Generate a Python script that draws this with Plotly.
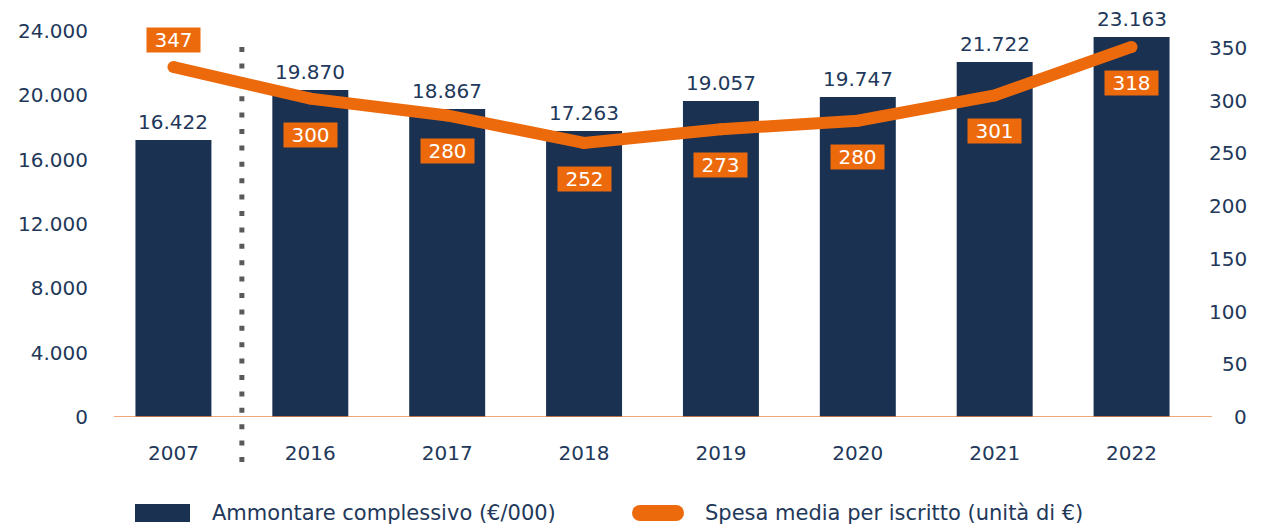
import plotly.graph_objects as go

# ---- data ----
anni = ["2007", "2016", "2017", "2018", "2019", "2020", "2021", "2022"]
# bar heights as drawn in the reference (€/000)
ammontare = [17230, 20330, 19150, 17790, 19650, 19900, 22080, 23630]
# printed bar labels
ammontare_label = [16422, 19870, 18867, 17263, 19057, 19747, 21722, 23163]
# line values as drawn in the reference (€)
spesa_media = [332, 302, 286, 260, 273, 281, 305, 351]
# printed line labels
spesa_label = [347, 300, 280, 252, 273, 280, 301, 318]

left_ticks = [0, 4000, 8000, 12000, 16000, 20000, 24000]
right_ticks = [0, 50, 100, 150, 200, 250, 300, 350]

NAVY = "#1a3152"
ORANGE = "#ec6a0c"
TEXT = "#22385a"
FONT = "DejaVu Sans"
FS = 21

W, H = 1270, 525
L, R, T, B = 105, 70, 20, 108
plot_w = W - L - R
plot_h = H - T - B


def px_x(p):
    return (p - L) / plot_w


def px_y(p):
    return (H - B - p) / plot_h


def it(v):
    return f"{v:,}".replace(",", ".")


fig = go.Figure()
fig.add_trace(go.Bar(
    x=anni, y=ammontare, marker_color=NAVY, marker_line_width=0,
    name="Ammontare complessivo (€/000)", hoverinfo="skip",
))
fig.add_trace(go.Scatter(
    x=anni, y=spesa_media, yaxis="y2", mode="lines+markers",
    line=dict(color=ORANGE, width=12),
    marker=dict(color=ORANGE, size=12, line_width=0),
    name="Spesa media per iscritto (unità di €)", hoverinfo="skip",
))

annotations = []
for i, (v, lab) in enumerate(zip(ammontare, ammontare_label)):
    annotations.append(dict(
        x=i, y=v, xref="x", yref="y", text=it(lab), showarrow=False,
        yanchor="middle", yshift=18, font=dict(family=FONT, size=FS - 1, color=TEXT),
    ))
for i, (v, lab) in enumerate(zip(spesa_media, spesa_label)):
    annotations.append(dict(
        x=i, y=v, xref="x", yref="y2", text=str(lab), showarrow=False,
        yanchor="middle", yshift=27 if i == 0 else -36,
        bgcolor=ORANGE, borderpad=0, width=53, height=24,
        font=dict(family=FONT, size=FS - 1, color="white"),
    ))
for t in right_ticks:
    annotations.append(dict(
        x=px_x(1249), y=t, xref="paper", yref="y2", text=str(t), showarrow=False,
        xanchor="right", yanchor="middle",
        font=dict(family=FONT, size=FS - 1, color=TEXT),
    ))
# legend texts
annotations.append(dict(
    x=px_x(210), y=px_y(513), xref="paper", yref="paper", xanchor="left", yanchor="middle",
    text="Ammontare complessivo (€/000)", showarrow=False,
    font=dict(family=FONT, size=FS, color=TEXT),
))
annotations.append(dict(
    x=px_x(703), y=px_y(513), xref="paper", yref="paper", xanchor="left", yanchor="middle",
    text="Spesa media per iscritto (unità di €)", showarrow=False,
    font=dict(family=FONT, size=FS, color=TEXT),
))

shapes = [
    # dotted separator
    dict(type="line", xref="x", yref="paper", x0=0.5, x1=0.5,
         y0=px_y(462), y1=px_y(38), layer="below",
         line=dict(color="#5a5a5a", width=5, dash="5px,11.4px")),
    # baseline
    dict(type="line", xref="paper", yref="y", x0=px_x(114), x1=px_x(1212), y0=0, y1=0,
         line=dict(color="#ee8a4e", width=1.3)),
    # legend swatch bar
    dict(type="rect", xref="paper", yref="paper", x0=px_x(135), x1=px_x(190),
         y0=px_y(522), y1=px_y(504), fillcolor=NAVY, line_width=0),
    # legend pill
    dict(type="rect", xref="paper", yref="paper", x0=px_x(640), x1=px_x(676),
         y0=px_y(521), y1=px_y(505), fillcolor=ORANGE, line_width=0),
    dict(type="circle", xref="paper", yref="paper", x0=px_x(632), x1=px_x(648),
         y0=px_y(521), y1=px_y(505), fillcolor=ORANGE, line_width=0),
    dict(type="circle", xref="paper", yref="paper", x0=px_x(668), x1=px_x(684),
         y0=px_y(521), y1=px_y(505), fillcolor=ORANGE, line_width=0),
]

fig.update_layout(
    width=W, height=H,
    margin=dict(l=L, r=R, t=T, b=B, pad=0),
    paper_bgcolor="white", plot_bgcolor="white",
    showlegend=False, bargap=0.445,
    separators=",.",
    font=dict(family=FONT, size=FS, color=TEXT),
    xaxis=dict(type="category", range=[-0.5, 7.5], showgrid=False, showline=False,
               zeroline=False, ticks="outside", ticklen=18, tickcolor="rgba(0,0,0,0)",
               tickfont=dict(family=FONT, size=FS - 1, color=TEXT)),
    yaxis=dict(range=[0, 24000 * (H - B - T) / 386], tickvals=left_ticks,
               tickformat=",d", showgrid=False, zeroline=False, showline=False,
               ticks="outside", ticklen=12, tickcolor="rgba(0,0,0,0)",
               tickfont=dict(family=FONT, size=FS - 1, color=TEXT)),
    yaxis2=dict(range=[0, 350 * (H - B - T) / 369], overlaying="y", side="right",
                showgrid=False, zeroline=False, showline=False, showticklabels=False),
    annotations=annotations, shapes=shapes,
)

fig.write_html(
    "out.html",
    config={"displayModeBar": False},
    post_script="document.body.style.margin='0';document.body.style.overflow='hidden';",
)
